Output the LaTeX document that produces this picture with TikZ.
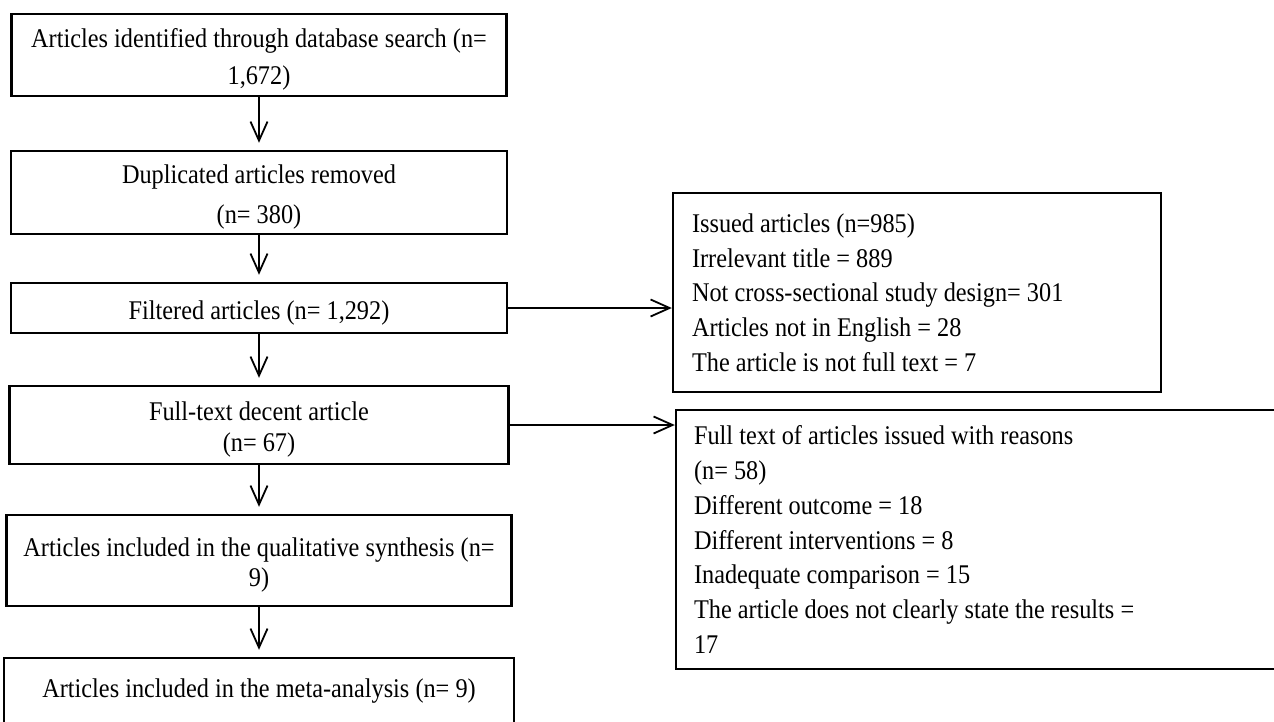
\documentclass[tikz,border=0pt]{standalone}
\usepackage{fontspec}
\setmainfont{Liberation Serif}[FakeStretch=0.9]
\usepackage{tikz}
\usetikzlibrary{arrows.meta}
\newcommand{\boxstrut}{\rule{0pt}{28pt}}

\begin{document}
\begin{tikzpicture}[x=1pt, y=-1pt,
	every node/.style={font=\fontsize{27}{34.7}\selectfont},
	box/.style={draw, line width=2.4pt, rectangle, align=center, inner sep=0pt},
	sidebox/.style={draw, line width=2.4pt, rectangle, align=flush left, inner xsep=19pt, inner ysep=0pt},
	arr/.style={line width=1.8pt, -{Straight Barb[length=19pt, width=17pt]}}]
	\useasboundingbox (0,0) rectangle (1274,722);

	% draw main boxes
	\node[box, minimum width=495pt, minimum height=82pt] (found) at (259,55) {\boxstrut Articles identified through database search (n=\\[2pt] 1,672)};
	\node[box, minimum width=496pt, minimum height=83pt] (dup) at (259,192.5) {\boxstrut Duplicated articles removed\\[5pt] (n= 380)};
	\node[box, minimum width=496pt, minimum height=50pt] (filt) at (259,308) {\boxstrut Filtered articles (n= 1,292)};
	\node[box, minimum width=499pt, minimum height=78pt] (full) at (259,425) {\boxstrut Full-text decent article\\[-4pt] (n= 67)};
	\node[box, minimum width=505pt, minimum height=91pt] (qual) at (259,560.5) {\boxstrut Articles included in the qualitative synthesis (n=\\[-4pt] 9)};
	\node[box, minimum width=510pt, minimum height=66pt] (meta) at (259,691) {Articles included in the meta-analysis (n= 9)};

	% draw side boxes
	\node[sidebox, text width=450pt, minimum height=199pt] (issued) at (917,292.5) {Issued articles (n=985)\\ Irrelevant title = 889\\ Not cross-sectional study design= 301\\ Articles not in English = 28\\ The article is not full text = 7};
	\node[sidebox, inner xsep=18pt, text width=568pt, minimum height=259pt] (reasons) at (978,539.5) {Full text of articles issued with reasons\\ (n= 58)\\ Different outcome = 18\\ Different interventions = 8\\ Inadequate comparison = 15\\ The article does not clearly state the results =\\ 17};

	% draw arrows
	\foreach \a/\b in {found/dup, dup/filt, filt/full, full/qual, qual/meta}
	\draw[arr, shorten >=7pt] (\a) -- (\b);
	\draw[arr] (filt.east) -- (filt.east -| issued.west);
	\draw[arr] (full.east) -- (full.east -| reasons.west);

\end{tikzpicture}
\end{document}
